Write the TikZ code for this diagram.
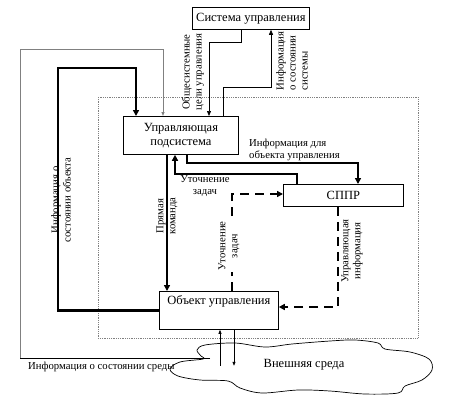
\documentclass[tikz,border=0pt]{standalone}
\usepackage{fontspec}
\setmainfont{Liberation Serif}
\usetikzlibrary{arrows.meta,calc}
\begin{document}
\begin{tikzpicture}[x=1pt,y=-1pt,
  box/.style={draw,fill=white,line width=0.8pt,inner sep=1pt,font=\fontsize{12.5}{14}\selectfont},
  lbl/.style={font=\fontsize{10.7}{12}\selectfont,inner sep=1pt},
  rlbl/.style={lbl,rotate=90,align=center},
  thickarr/.style={line width=2.4pt,-{Triangle[length=6pt,width=6pt]}},
  dasharr/.style={line width=2.4pt,dash pattern=on 9pt off 6pt,-{Triangle[length=6pt,width=6pt]}},
  thinarr/.style={line width=0.7pt,-{Triangle[length=4pt,width=3pt]}},
  grayarr/.style={gray,line width=1pt,-{Triangle[length=4pt,width=3pt]}}]
\useasboundingbox (0,0) rectangle (461,400);
% dotted frame
\draw[gray,densely dotted,line width=0.8pt] (98,97) rectangle (418,338);
% cloud
\draw[line width=0.7pt,fill=white] plot[smooth cycle,tension=0.55] coordinates {
 (201,356) (197,350) (205,345) (235,343) (265,347) (292,344) (330,341) (355,340)
 (378,343) (385,349) (410,352) (429,359) (432,370) (422,380) (405,386) (398,393)
 (365,394) (330,391) (298,390) (262,393) (240,388) (228,381) (200,380) (178,376)
 (170,369) (180,362) (203,359)};
\node[font=\fontsize{12.5}{14}\selectfont] (envt) at (304,365) {Внешняя среда};
% boxes
\node[box,anchor=north west,minimum width=117,minimum height=22] (sys) at (192,7) {Система управления};
\node[box,anchor=north west,minimum width=115,minimum height=38,align=center] (ups) at (123,116) {Управляющая\\подсистема};
\node[box,anchor=north west,minimum width=120,minimum height=22] (sppr) at (283,184) {СППР};
\node[box,anchor=north west,minimum width=119,minimum height=38,text depth=21pt] (obj) at (159,291) {Объект управления};
% coordinates
\coordinate (g1) at (210,358);
\coordinate (g0) at (20,358);
\coordinate (g2) at (20,49);
\coordinate (o1) at (58,68);
\coordinate (s1) at (241,42);
\coordinate (s2) at (223,87);
\coordinate (f1) at (187,163);
\coordinate (f2) at (175,174);
\coordinate (d1) at (232,194);
\coordinate (d2) at (338,307);
% environment state loop
\draw[line width=0.8pt] (g1) -- (g0);
\draw[grayarr] (g0) -- (g2) -| ($(ups.north west)+(40,0)$);
% info about object state
\draw[thickarr] (obj.west) -| (o1) -| ($(ups.north west)+(13,0)$);
% system goals
\draw[line width=0.7pt,-{Triangle[length=5pt,width=4pt]}] ($(sys.south west)+(49,0)$) -- (s1) -| ($(ups.north west)+(86,0)$);
% system state
\draw[line width=0.7pt,-{Triangle[length=5pt,width=4pt]}] ($(ups.north west)+(100,0)$) -- (s2) -| ($(sys.south west)+(79,0)$);
% info for object
\draw[thickarr] ($(ups.south west)+(64,0)$) -- (f1) -| ($(sppr.north west)+(75,0)$);
% refine tasks
\draw[thickarr] ($(sppr.north west)+(14,0)$) |- (f2) -- ($(ups.south west)+(52,0)$);
% direct command
\draw[thickarr] ($(ups.south west)+(44,0)$) -- ($(obj.north west)+(8,0)$);
% dashed
\draw[dasharr] ($(obj.north west)+(73,0)$) |- (d1) -- (sppr.west |- d1);
\draw[dasharr] ($(sppr.south west)+(55,0)$) |- (d2) -- (obj.east |- d2);
% environment arrows
\draw[thinarr] ($(obj.south west)+(61,36)$) coordinate (e1) -- ($(obj.south west)+(61,0)$);
\draw[thinarr] ($(obj.south west)+(75,0)$) -- ($(obj.south west)+(75,36)$) coordinate (e2);
% labels
\node[rlbl] (l1) at (193,72) {Общесистемные\\цели управления};
\node[lbl,rotate=90,align=left] (l2) at (292,61) {Информация\\о состоянии\\системы};
\node[lbl,anchor=west,align=left] (l3) at (248,150) {Информация для\\объекта управления};
\node[lbl,align=center] (l4) at (205,186) {Уточнение\\задач};
\node[rlbl] (l5) at (167,216) {Прямая\\команда};
\node[rlbl,fill=white] (l6) at (229,246) {Уточнение\\задач};
\node[rlbl] (l7) at (352,251) {Управляющая\\информация};
\node[rlbl] (l8) at (61,200) {Информация о\\состоянии объекта};
\node[lbl,anchor=west] (l9) at (27,367) {Информация о состоянии среды};
\end{tikzpicture}
\end{document}
